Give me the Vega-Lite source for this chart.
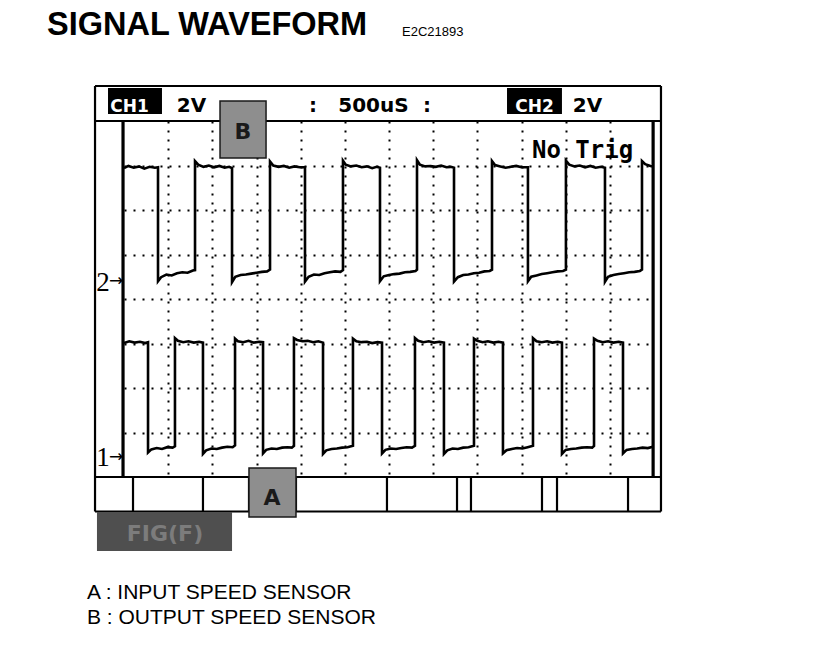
{
  "$schema": "https://vega.github.io/schema/vega-lite/v6.json",
  "width": 530,
  "height": 356,
  "autosize": {"type": "none"},
  "padding": {"left": 124, "top": 121, "right": 162, "bottom": 189},
  "background": "white",
  "config": {"view": {"stroke": null}},
  "datasets": {
    "waves": [
      {"ch":"B","t":0,"v":6.94},{"ch":"B","t":50,"v":6.99},{"ch":"B","t":110,"v":6.95},{"ch":"B","t":170,"v":6.98},{"ch":"B","t":230,"v":6.93},{"ch":"B","t":290,"v":6.97},{"ch":"B","t":350,"v":6.95},{"ch":"B","t":385,"v":6.96},
      {"ch":"B","t":385,"v":4.40},{"ch":"B","t":420,"v":4.49},{"ch":"B","t":480,"v":4.55},{"ch":"B","t":540,"v":4.53},{"ch":"B","t":600,"v":4.58},{"ch":"B","t":660,"v":4.60},{"ch":"B","t":720,"v":4.59},{"ch":"B","t":780,"v":4.64},{"ch":"B","t":804,"v":4.65},
      {"ch":"B","t":804,"v":7.10},{"ch":"B","t":840,"v":7.02},{"ch":"B","t":900,"v":6.97},{"ch":"B","t":960,"v":7.00},{"ch":"B","t":1020,"v":6.96},{"ch":"B","t":1080,"v":6.99},{"ch":"B","t":1140,"v":6.95},{"ch":"B","t":1190,"v":6.97},{"ch":"B","t":1223,"v":6.94},
      {"ch":"B","t":1223,"v":4.38},{"ch":"B","t":1260,"v":4.50},{"ch":"B","t":1320,"v":4.54},{"ch":"B","t":1380,"v":4.55},{"ch":"B","t":1440,"v":4.57},{"ch":"B","t":1500,"v":4.59},{"ch":"B","t":1560,"v":4.61},{"ch":"B","t":1620,"v":4.62},{"ch":"B","t":1653,"v":4.66},
      {"ch":"B","t":1653,"v":7.09},{"ch":"B","t":1690,"v":7.00},{"ch":"B","t":1750,"v":6.97},{"ch":"B","t":1810,"v":6.99},{"ch":"B","t":1870,"v":6.95},{"ch":"B","t":1930,"v":6.98},{"ch":"B","t":1990,"v":6.96},{"ch":"B","t":2049,"v":6.96},
      {"ch":"B","t":2049,"v":4.39},{"ch":"B","t":2090,"v":4.50},{"ch":"B","t":2150,"v":4.55},{"ch":"B","t":2210,"v":4.54},{"ch":"B","t":2270,"v":4.58},{"ch":"B","t":2330,"v":4.60},{"ch":"B","t":2390,"v":4.62},{"ch":"B","t":2450,"v":4.61},{"ch":"B","t":2479,"v":4.65},
      {"ch":"B","t":2479,"v":7.11},{"ch":"B","t":2510,"v":7.02},{"ch":"B","t":2570,"v":6.98},{"ch":"B","t":2630,"v":7.00},{"ch":"B","t":2690,"v":6.96},{"ch":"B","t":2750,"v":6.98},{"ch":"B","t":2810,"v":6.94},{"ch":"B","t":2860,"v":6.97},{"ch":"B","t":2898,"v":6.95},
      {"ch":"B","t":2898,"v":4.40},{"ch":"B","t":2940,"v":4.51},{"ch":"B","t":3000,"v":4.54},{"ch":"B","t":3060,"v":4.56},{"ch":"B","t":3120,"v":4.57},{"ch":"B","t":3180,"v":4.60},{"ch":"B","t":3240,"v":4.61},{"ch":"B","t":3300,"v":4.63},{"ch":"B","t":3317,"v":4.66},
      {"ch":"B","t":3317,"v":7.12},{"ch":"B","t":3350,"v":7.02},{"ch":"B","t":3410,"v":6.98},{"ch":"B","t":3470,"v":6.99},{"ch":"B","t":3530,"v":6.97},{"ch":"B","t":3590,"v":7.00},{"ch":"B","t":3650,"v":6.96},{"ch":"B","t":3700,"v":6.97},{"ch":"B","t":3736,"v":6.95},
      {"ch":"B","t":3736,"v":4.39},{"ch":"B","t":3780,"v":4.49},{"ch":"B","t":3840,"v":4.54},{"ch":"B","t":3900,"v":4.55},{"ch":"B","t":3960,"v":4.58},{"ch":"B","t":4020,"v":4.59},{"ch":"B","t":4080,"v":4.62},{"ch":"B","t":4140,"v":4.63},{"ch":"B","t":4166,"v":4.66},
      {"ch":"B","t":4166,"v":7.10},{"ch":"B","t":4200,"v":7.01},{"ch":"B","t":4260,"v":6.98},{"ch":"B","t":4320,"v":6.95},{"ch":"B","t":4380,"v":6.97},{"ch":"B","t":4440,"v":6.99},{"ch":"B","t":4500,"v":6.96},{"ch":"B","t":4573,"v":6.96},
      {"ch":"B","t":4573,"v":4.40},{"ch":"B","t":4610,"v":4.50},{"ch":"B","t":4670,"v":4.53},{"ch":"B","t":4730,"v":4.56},{"ch":"B","t":4790,"v":4.58},{"ch":"B","t":4850,"v":4.60},{"ch":"B","t":4910,"v":4.62},{"ch":"B","t":4970,"v":4.63},{"ch":"B","t":5003,"v":4.66},
      {"ch":"B","t":5003,"v":7.11},{"ch":"B","t":5040,"v":7.02},{"ch":"B","t":5100,"v":6.98},{"ch":"B","t":5160,"v":7.00},{"ch":"B","t":5220,"v":6.96},{"ch":"B","t":5280,"v":6.99},{"ch":"B","t":5340,"v":6.95},{"ch":"B","t":5400,"v":6.97},{"ch":"B","t":5445,"v":6.95},
      {"ch":"B","t":5445,"v":4.39},{"ch":"B","t":5480,"v":4.50},{"ch":"B","t":5540,"v":4.54},{"ch":"B","t":5600,"v":4.56},{"ch":"B","t":5660,"v":4.58},{"ch":"B","t":5720,"v":4.60},{"ch":"B","t":5780,"v":4.61},{"ch":"B","t":5840,"v":4.63},{"ch":"B","t":5864,"v":4.66},
      {"ch":"B","t":5864,"v":7.10},{"ch":"B","t":5900,"v":7.03},{"ch":"B","t":5960,"v":6.99},{"ch":"B","t":5988,"v":6.98},

      {"ch":"A","t":0,"v":3.01},{"ch":"A","t":60,"v":3.05},{"ch":"A","t":120,"v":3.02},{"ch":"A","t":180,"v":3.04},{"ch":"A","t":240,"v":3.01},{"ch":"A","t":272,"v":3.03},
      {"ch":"A","t":272,"v":0.55},{"ch":"A","t":310,"v":0.62},{"ch":"A","t":370,"v":0.65},{"ch":"A","t":430,"v":0.63},{"ch":"A","t":490,"v":0.67},{"ch":"A","t":550,"v":0.66},{"ch":"A","t":577,"v":0.69},
      {"ch":"A","t":577,"v":3.12},{"ch":"A","t":610,"v":3.06},{"ch":"A","t":670,"v":3.03},{"ch":"A","t":730,"v":3.05},{"ch":"A","t":790,"v":3.02},{"ch":"A","t":850,"v":3.04},{"ch":"A","t":894,"v":3.02},
      {"ch":"A","t":894,"v":0.52},{"ch":"A","t":930,"v":0.60},{"ch":"A","t":990,"v":0.64},{"ch":"A","t":1050,"v":0.63},{"ch":"A","t":1110,"v":0.66},{"ch":"A","t":1170,"v":0.68},{"ch":"A","t":1230,"v":0.67},{"ch":"A","t":1257,"v":0.71},
      {"ch":"A","t":1257,"v":3.11},{"ch":"A","t":1290,"v":3.05},{"ch":"A","t":1350,"v":3.03},{"ch":"A","t":1410,"v":3.06},{"ch":"A","t":1470,"v":3.02},{"ch":"A","t":1530,"v":3.04},{"ch":"A","t":1574,"v":3.03},
      {"ch":"A","t":1574,"v":0.53},{"ch":"A","t":1610,"v":0.61},{"ch":"A","t":1670,"v":0.64},{"ch":"A","t":1730,"v":0.63},{"ch":"A","t":1790,"v":0.66},{"ch":"A","t":1850,"v":0.67},{"ch":"A","t":1900,"v":0.66},{"ch":"A","t":1924,"v":0.70},
      {"ch":"A","t":1924,"v":3.12},{"ch":"A","t":1960,"v":3.08},{"ch":"A","t":2020,"v":3.05},{"ch":"A","t":2080,"v":3.06},{"ch":"A","t":2140,"v":3.03},{"ch":"A","t":2200,"v":3.05},{"ch":"A","t":2253,"v":3.02},
      {"ch":"A","t":2253,"v":0.52},{"ch":"A","t":2290,"v":0.60},{"ch":"A","t":2350,"v":0.63},{"ch":"A","t":2410,"v":0.64},{"ch":"A","t":2470,"v":0.66},{"ch":"A","t":2530,"v":0.67},{"ch":"A","t":2592,"v":0.70},
      {"ch":"A","t":2592,"v":3.11},{"ch":"A","t":2630,"v":3.05},{"ch":"A","t":2690,"v":3.03},{"ch":"A","t":2750,"v":3.04},{"ch":"A","t":2810,"v":3.01},{"ch":"A","t":2870,"v":3.03},{"ch":"A","t":2921,"v":3.02},
      {"ch":"A","t":2921,"v":0.53},{"ch":"A","t":2960,"v":0.61},{"ch":"A","t":3020,"v":0.64},{"ch":"A","t":3080,"v":0.63},{"ch":"A","t":3140,"v":0.65},{"ch":"A","t":3200,"v":0.67},{"ch":"A","t":3260,"v":0.66},{"ch":"A","t":3294,"v":0.70},
      {"ch":"A","t":3294,"v":3.12},{"ch":"A","t":3330,"v":3.06},{"ch":"A","t":3390,"v":3.03},{"ch":"A","t":3450,"v":3.05},{"ch":"A","t":3510,"v":3.02},{"ch":"A","t":3570,"v":3.04},{"ch":"A","t":3622,"v":3.02},
      {"ch":"A","t":3622,"v":0.52},{"ch":"A","t":3660,"v":0.60},{"ch":"A","t":3720,"v":0.64},{"ch":"A","t":3780,"v":0.63},{"ch":"A","t":3840,"v":0.66},{"ch":"A","t":3900,"v":0.67},{"ch":"A","t":3962,"v":0.70},
      {"ch":"A","t":3962,"v":3.11},{"ch":"A","t":4000,"v":3.06},{"ch":"A","t":4060,"v":3.03},{"ch":"A","t":4120,"v":3.05},{"ch":"A","t":4180,"v":3.02},{"ch":"A","t":4240,"v":3.04},{"ch":"A","t":4290,"v":3.02},
      {"ch":"A","t":4290,"v":0.53},{"ch":"A","t":4330,"v":0.60},{"ch":"A","t":4390,"v":0.63},{"ch":"A","t":4450,"v":0.65},{"ch":"A","t":4510,"v":0.64},{"ch":"A","t":4570,"v":0.67},{"ch":"A","t":4630,"v":0.70},
      {"ch":"A","t":4630,"v":3.12},{"ch":"A","t":4670,"v":3.05},{"ch":"A","t":4730,"v":3.03},{"ch":"A","t":4790,"v":3.05},{"ch":"A","t":4850,"v":3.02},{"ch":"A","t":4910,"v":3.04},{"ch":"A","t":4958,"v":3.02},
      {"ch":"A","t":4958,"v":0.52},{"ch":"A","t":5000,"v":0.61},{"ch":"A","t":5060,"v":0.63},{"ch":"A","t":5120,"v":0.64},{"ch":"A","t":5180,"v":0.66},{"ch":"A","t":5240,"v":0.67},{"ch":"A","t":5300,"v":0.66},{"ch":"A","t":5321,"v":0.70},
      {"ch":"A","t":5321,"v":3.11},{"ch":"A","t":5360,"v":3.06},{"ch":"A","t":5420,"v":3.03},{"ch":"A","t":5480,"v":3.05},{"ch":"A","t":5540,"v":3.02},{"ch":"A","t":5600,"v":3.04},{"ch":"A","t":5649,"v":3.02},
      {"ch":"A","t":5649,"v":0.53},{"ch":"A","t":5690,"v":0.61},{"ch":"A","t":5750,"v":0.63},{"ch":"A","t":5810,"v":0.64},{"ch":"A","t":5870,"v":0.66},{"ch":"A","t":5930,"v":0.65},{"ch":"A","t":5988,"v":0.68}
    ],
    "lines": [
      {"kind":"thin","t":-328,"t2":6079,"v":8.787,"v2":8.787},
      {"kind":"thin","t":-328,"t2":6079,"v":-0.775,"v2":-0.775},
      {"kind":"thin","t":-328,"t2":-328,"v":-0.775,"v2":8.787},
      {"kind":"thin","t":6079,"t2":6079,"v":-0.775,"v2":8.787},
      {"kind":"thin","t":-328,"t2":6079,"v":8,"v2":8},
      {"kind":"thin","t":-328,"t2":6079,"v":0,"v2":0},
      {"kind":"thin","t":102,"t2":102,"v":-0.775,"v2":0},
      {"kind":"thin","t":894,"t2":894,"v":-0.775,"v2":0},
      {"kind":"thin","t":1415,"t2":1415,"v":-0.775,"v2":0},
      {"kind":"thin","t":1947,"t2":1947,"v":-0.775,"v2":0},
      {"kind":"thin","t":2977,"t2":2977,"v":-0.775,"v2":0},
      {"kind":"thin","t":3770,"t2":3770,"v":-0.775,"v2":0},
      {"kind":"thin","t":3928,"t2":3928,"v":-0.775,"v2":0},
      {"kind":"thin","t":4732,"t2":4732,"v":-0.775,"v2":0},
      {"kind":"thin","t":4902,"t2":4902,"v":-0.775,"v2":0},
      {"kind":"thin","t":5706,"t2":5706,"v":-0.775,"v2":0},
      {"kind":"thick","t":-11,"t2":-11,"v":0,"v2":8},
      {"kind":"thick","t":5990,"t2":5990,"v":0,"v2":8}
    ],
    "boxes": [
      {"kind":"black","t":-181,"t2":430,"v":8.742,"v2":8.157},
      {"kind":"black","t":4336,"t2":4958,"v":8.742,"v2":8.157},
      {"kind":"gray","t":1087,"t2":1608,"v":8.449,"v2":7.169},
      {"kind":"gray","t":1415,"t2":1947,"v":0.202,"v2":-0.899},
      {"kind":"dark","t":-306,"t2":1223,"v":-0.787,"v2":-1.663}
    ],
    "labels": [
      {"kind":"title","label":"SIGNAL  WAVEFORM","t":-872,"v":9.933},
      {"kind":"code","label":"E2C21893","t":3147,"v":9.91},
      {"kind":"legend","label":"A : INPUT SPEED SENSOR","t":-419,"v":-2.74},
      {"kind":"legend","label":"B : OUTPUT SPEED SENSOR","t":-419,"v":-3.30},
      {"kind":"chan","label":"CH1","t":62,"v":8.202},
      {"kind":"chan","label":"CH2","t":4647,"v":8.202},
      {"kind":"head","label":"2V","t":764,"v":8.202},
      {"kind":"head","label":":","t":2140,"v":8.202},
      {"kind":"head","label":"500uS","t":2824,"v":8.202},
      {"kind":"head","label":":","t":3430,"v":8.202},
      {"kind":"head","label":"2V","t":5247,"v":8.202},
      {"kind":"trig","label":"No Trig","t":5191,"v":7.169},
      {"kind":"box","label":"B","t":1347,"v":7.596},
      {"kind":"box","label":"A","t":1675,"v":-0.629},
      {"kind":"fig","label":"FIG(F)","t":464,"v":-1.438},
      {"kind":"mark","label":"2","t":-238,"v":4.18},
      {"kind":"mark","label":"1","t":-238,"v":0.25},
      {"kind":"arrow","label":"→","t":-90,"v":4.404},
      {"kind":"arrow","label":"→","t":-90,"v":0.449}
    ]
  },
  "encoding": {
    "x": {"field": "t", "type": "quantitative", "scale": {"domain": [0, 6000], "nice": false, "zero": false},
      "axis": {"values": [500,1000,1500,2000,2500,3000,3500,4000,4500,5000,5500], "grid": true, "gridDash": [2,7], "gridWidth": 2, "gridColor": "#000", "labels": false, "ticks": false, "domain": false, "title": null}},
    "y": {"field": "v", "type": "quantitative", "scale": {"domain": [0, 8], "nice": false, "zero": false},
      "axis": {"values": [1,2,3,4,5,6,7], "grid": true, "gridDash": [2,7], "gridWidth": 2, "gridColor": "#000", "labels": false, "ticks": false, "domain": false, "title": null}}
  },
  "layer": [
    {"data": {"name": "lines"}, "transform": [{"filter": "datum.kind === 'thin'"}],
     "mark": {"type": "rule", "color": "#000", "strokeWidth": 2.2},
     "encoding": {"x2": {"field": "t2"}, "y2": {"field": "v2"}}},
    {"data": {"name": "lines"}, "transform": [{"filter": "datum.kind === 'thick'"}],
     "mark": {"type": "rule", "color": "#000", "strokeWidth": 3.2},
     "encoding": {"x2": {"field": "t2"}, "y2": {"field": "v2"}}},
    {"data": {"name": "waves"},
     "mark": {"type": "line", "color": "#000", "strokeWidth": 2.6, "strokeJoin": "miter"},
     "encoding": {"detail": {"field": "ch"}, "order": {"value": null}}},
    {"data": {"name": "boxes"}, "transform": [{"filter": "datum.kind === 'black'"}],
     "mark": {"type": "rect", "fill": "#000"},
     "encoding": {"x2": {"field": "t2"}, "y2": {"field": "v2"}}},
    {"data": {"name": "boxes"}, "transform": [{"filter": "datum.kind === 'gray'"}],
     "mark": {"type": "rect", "fill": "#8e8e8e", "stroke": "#1a1a1a", "strokeWidth": 1.5},
     "encoding": {"x2": {"field": "t2"}, "y2": {"field": "v2"}}},
    {"data": {"name": "boxes"}, "transform": [{"filter": "datum.kind === 'dark'"}],
     "mark": {"type": "rect", "fill": "#4f4f4f"},
     "encoding": {"x2": {"field": "t2"}, "y2": {"field": "v2"}}},
    {"data": {"name": "labels"}, "transform": [{"filter": "datum.kind === 'title'"}],
     "mark": {"type": "text", "align": "left", "baseline": "alphabetic", "font": "Liberation Sans", "fontWeight": "bold", "fontSize": 32.5, "color": "#000"},
     "encoding": {"text": {"field": "label"}}},
    {"data": {"name": "labels"}, "transform": [{"filter": "datum.kind === 'code'"}],
     "mark": {"type": "text", "align": "left", "baseline": "alphabetic", "font": "Liberation Sans", "fontSize": 13, "color": "#000"},
     "encoding": {"text": {"field": "label"}}},
    {"data": {"name": "labels"}, "transform": [{"filter": "datum.kind === 'legend'"}],
     "mark": {"type": "text", "align": "left", "baseline": "alphabetic", "font": "Liberation Sans", "fontSize": 21, "color": "#000"},
     "encoding": {"text": {"field": "label"}}},
    {"data": {"name": "labels"}, "transform": [{"filter": "datum.kind === 'chan'"}],
     "mark": {"type": "text", "align": "center", "baseline": "alphabetic", "font": "DejaVu Sans", "fontWeight": "bold", "fontSize": 17, "color": "#fff"},
     "encoding": {"text": {"field": "label"}}},
    {"data": {"name": "labels"}, "transform": [{"filter": "datum.kind === 'head'"}],
     "mark": {"type": "text", "align": "center", "baseline": "alphabetic", "font": "DejaVu Sans", "fontWeight": "bold", "fontSize": 20, "color": "#000"},
     "encoding": {"text": {"field": "label"}}},
    {"data": {"name": "labels"}, "transform": [{"filter": "datum.kind === 'trig'"}],
     "mark": {"type": "text", "align": "center", "baseline": "alphabetic", "font": "DejaVu Sans Mono", "fontWeight": "bold", "fontSize": 24, "color": "#000"},
     "encoding": {"text": {"field": "label"}}},
    {"data": {"name": "labels"}, "transform": [{"filter": "datum.kind === 'box'"}],
     "mark": {"type": "text", "align": "center", "baseline": "alphabetic", "font": "DejaVu Sans", "fontWeight": "bold", "fontSize": 22, "color": "#1a1a1a"},
     "encoding": {"text": {"field": "label"}}},
    {"data": {"name": "labels"}, "transform": [{"filter": "datum.kind === 'fig'"}],
     "mark": {"type": "text", "align": "center", "baseline": "alphabetic", "font": "DejaVu Sans", "fontWeight": "bold", "fontSize": 22, "color": "#7c7c7c"},
     "encoding": {"text": {"field": "label"}}},
    {"data": {"name": "labels"}, "transform": [{"filter": "datum.kind === 'mark'"}],
     "mark": {"type": "text", "align": "center", "baseline": "alphabetic", "font": "Liberation Serif", "fontSize": 27, "color": "#000"},
     "encoding": {"text": {"field": "label"}}},
    {"data": {"name": "labels"}, "transform": [{"filter": "datum.kind === 'arrow'"}],
     "mark": {"type": "text", "align": "center", "baseline": "middle", "font": "DejaVu Sans", "fontSize": 17, "color": "#000"},
     "encoding": {"text": {"field": "label"}}}
  ]
}
